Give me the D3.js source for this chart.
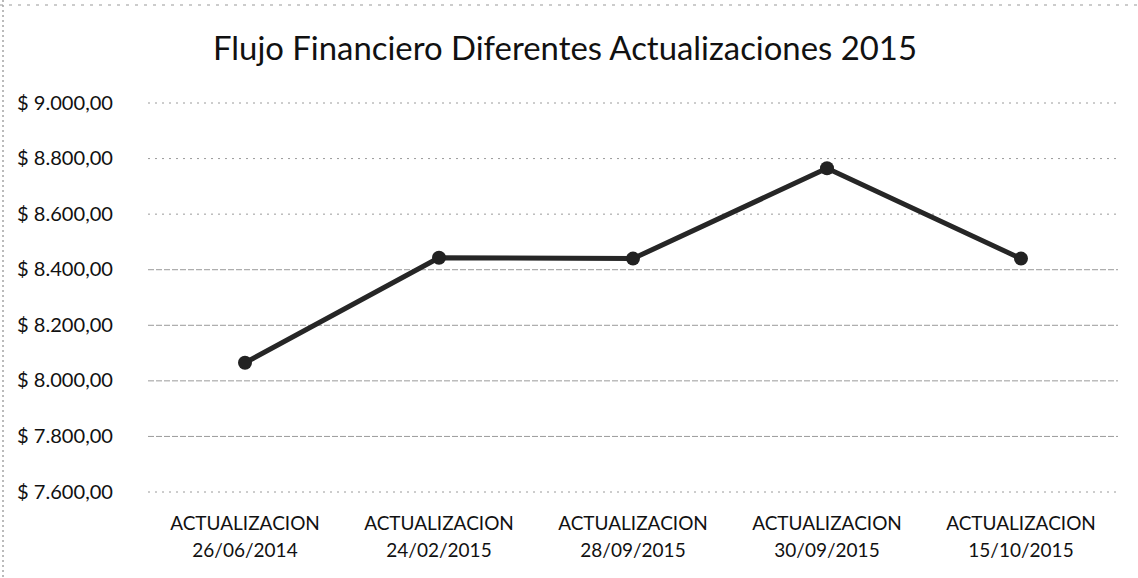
<!DOCTYPE html>
<html>
<head>
<meta charset="utf-8">
<script src="https://cdn.jsdelivr.net/npm/d3@7"></script>
<style>
  body { margin: 0; background: #fff; }
  .axis text { font-family: Lato, "Open Sans", sans-serif; fill: #111; }
</style>
</head>
<body>
<div id="chart"></div>
<script>
// chart data
var categories = ["26/06/2014", "24/02/2015", "28/09/2015", "30/09/2015", "15/10/2015"];
var values = [8065, 8443, 8440, 8765, 8440];
var yTicks = [7600, 7800, 8000, 8200, 8400, 8600, 8800, 9000];
var title = "Flujo Financiero Diferentes Actualizaciones 2015";

var W = 1138, H = 578;
var margin = { top: 103, right: 20, bottom: 86, left: 148 };
var width = W - margin.left - margin.right,
    height = H - margin.top - margin.bottom;

var svg = d3.select("#chart").append("svg")
    .attr("width", W)
    .attr("height", H);

// faint scan border
svg.append("line")
    .attr("x1", 3).attr("x2", 3).attr("y1", 0).attr("y2", H)
    .attr("stroke", "#777").attr("stroke-dasharray", "2,3").attr("stroke-width", 1);
svg.append("line")
    .attr("x1", 0).attr("x2", W).attr("y1", 5).attr("y2", 5)
    .attr("stroke", "#999").attr("stroke-dasharray", "3,6").attr("stroke-width", 1);

svg.append("text")
    .attr("x", 565).attr("y", 60)
    .attr("text-anchor", "middle")
    .style("font-family", "Lato, 'Open Sans', sans-serif")
    .style("font-size", "33px")
    .attr("textLength", 704)
    .attr("lengthAdjust", "spacingAndGlyphs")
    .attr("fill", "#111")
    .text(title);

var g = svg.append("g")
    .attr("transform", "translate(" + margin.left + "," + margin.top + ")");

var x = d3.scaleBand()
    .domain(categories)
    .range([0, width]);

var y = d3.scaleLinear()
    .domain([7600, 9000])
    .range([height, 0]);

// gridlines
g.append("g")
    .selectAll("line")
    .data(yTicks)
    .enter().append("line")
    .attr("x1", 0).attr("x2", width)
    .attr("y1", function(d) { return y(d); })
    .attr("y2", function(d) { return y(d); })
    .attr("stroke", "#9a9a9a")
    .attr("stroke-width", 1)
    .attr("stroke-dasharray", function(d) { return d >= 8600 || d == 7600 ? "2,5" : "6,2"; });

var fmt = function(d) {
  var s = d3.format(",.2f")(d);
  return "$ " + s.replace(/,/g, "#").replace(".", ",").replace(/#/g, ".");
};

var yAxis = d3.axisLeft(y)
    .tickValues(yTicks)
    .tickSize(0)
    .tickPadding(35)
    .tickFormat(fmt);

g.append("g")
    .attr("class", "axis")
    .call(yAxis)
    .call(function(s) { s.select(".domain").remove(); })
    .selectAll("text")
    .attr("text-anchor", "start")
    .attr("x", -131)
    .attr("textLength", 96)
    .attr("lengthAdjust", "spacingAndGlyphs")
    .style("font-size", "19px");

var xAxis = d3.axisBottom(x).tickSize(0).tickFormat(function() { return ""; });
var xa = g.append("g")
    .attr("class", "axis")
    .attr("transform", "translate(0," + height + ")")
    .call(xAxis);
xa.select(".domain").remove();
xa.selectAll(".tick").each(function(d) {
  var t = d3.select(this).append("text")
      .attr("text-anchor", "middle")
      .style("font-size", "19px")
      .attr("fill", "#111");
  t.append("tspan").attr("x", 0).attr("y", 38).text("ACTUALIZACION");
  t.append("tspan").attr("x", 0).attr("y", 65).text(d);
});

var data = categories.map(function(c, i) { return { cat: c, val: values[i] }; });

var line = d3.line()
    .x(function(d) { return x(d.cat) + x.bandwidth() / 2; })
    .y(function(d) { return y(d.val); });

g.append("path")
    .datum(data)
    .attr("fill", "none")
    .attr("stroke", "#262626")
    .attr("stroke-width", 5)
    .attr("stroke-linejoin", "round")
    .attr("d", line);

g.selectAll(".dot")
    .data(data)
    .enter().append("circle")
    .attr("class", "dot")
    .attr("cx", function(d) { return x(d.cat) + x.bandwidth() / 2; })
    .attr("cy", function(d) { return y(d.val); })
    .attr("r", 7)
    .attr("fill", "#222");
</script>
</body>
</html>
